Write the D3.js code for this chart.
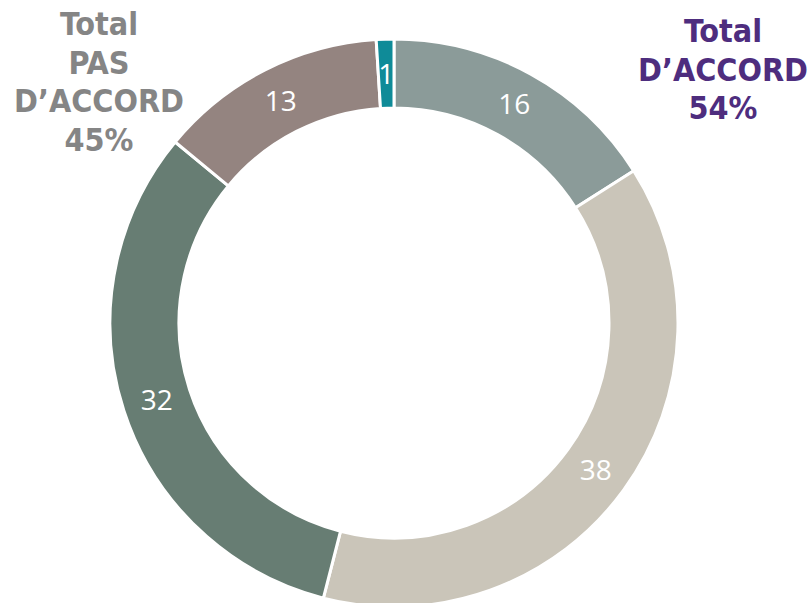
<!DOCTYPE html>
<html>
<head>
<meta charset="utf-8">
<script src="https://cdn.jsdelivr.net/npm/d3@7"></script>
<style>
  body { margin: 0; background: #fff; }
  svg { display: block; }
</style>
</head>
<body>
<div id="chart"></div>
<script>
// data, clockwise from 12 o'clock
var categories = ["Tout à fait d'accord", "Plutôt d'accord", "Plutôt pas d'accord", "Pas du tout d'accord", "NSP"];
var values = [16, 38, 32, 13, 1];
var colors = ["#8b9b99", "#cac5b9", "#677d73", "#948480", "#0f8b98"];
var leftTitle = ["Total", "PAS", "D\u2019ACCORD", "45%"];
var rightTitle = ["Total", "D\u2019ACCORD", "54%"];

var width = 812, height = 603;
var cx = 394, cy = 323, outerR = 284, innerR = 215;

var svg = d3.select("#chart")
  .append("svg")
  .attr("width", width)
  .attr("height", height);

var g = svg.append("g")
  .attr("transform", "translate(" + cx + "," + cy + ")");

var pie = d3.pie().sort(null).value(function (d) { return d; });
var arc = d3.arc().innerRadius(innerR).outerRadius(outerR);
var labelArc = d3.arc().innerRadius((innerR + outerR) / 2).outerRadius((innerR + outerR) / 2);

var arcs = pie(values);

g.selectAll("path")
  .data(arcs)
  .enter()
  .append("path")
  .attr("d", arc)
  .attr("fill", function (d, i) { return colors[i]; })
  .attr("stroke", "#fff")
  .attr("stroke-width", 3);

g.selectAll("text.val")
  .data(arcs)
  .enter()
  .append("text")
  .attr("class", "val")
  .attr("transform", function (d) { return "translate(" + labelArc.centroid(d) + ")"; })
  .attr("text-anchor", "middle")
  .attr("dy", "0.36em")
  .attr("fill", "#fff")
  .style("font-family", "'Open Sans', 'Noto Sans', sans-serif")
  .style("font-size", "28px")
  .text(function (d) { return d.data; });

// side titles
function title(lines, x, y, color) {
  svg.append("text")
    .attr("x", x)
    .attr("y", y)
    .attr("text-anchor", "middle")
    .attr("fill", color)
    .style("font-family", "'DejaVu Sans Condensed', 'DejaVu Sans', Verdana, sans-serif")
    .style("font-weight", "bold")
    .style("font-size", "32px")
    .selectAll("tspan")
    .data(lines)
    .enter()
    .append("tspan")
    .attr("x", x)
    .attr("dy", function (d, i) { return i === 0 ? 0 : 38.5; })
    .text(function (d) { return d; });
}
title(leftTitle, 99, 35, "#858585");
title(rightTitle, 723, 42, "#4e2d7e");
</script>
</body>
</html>
